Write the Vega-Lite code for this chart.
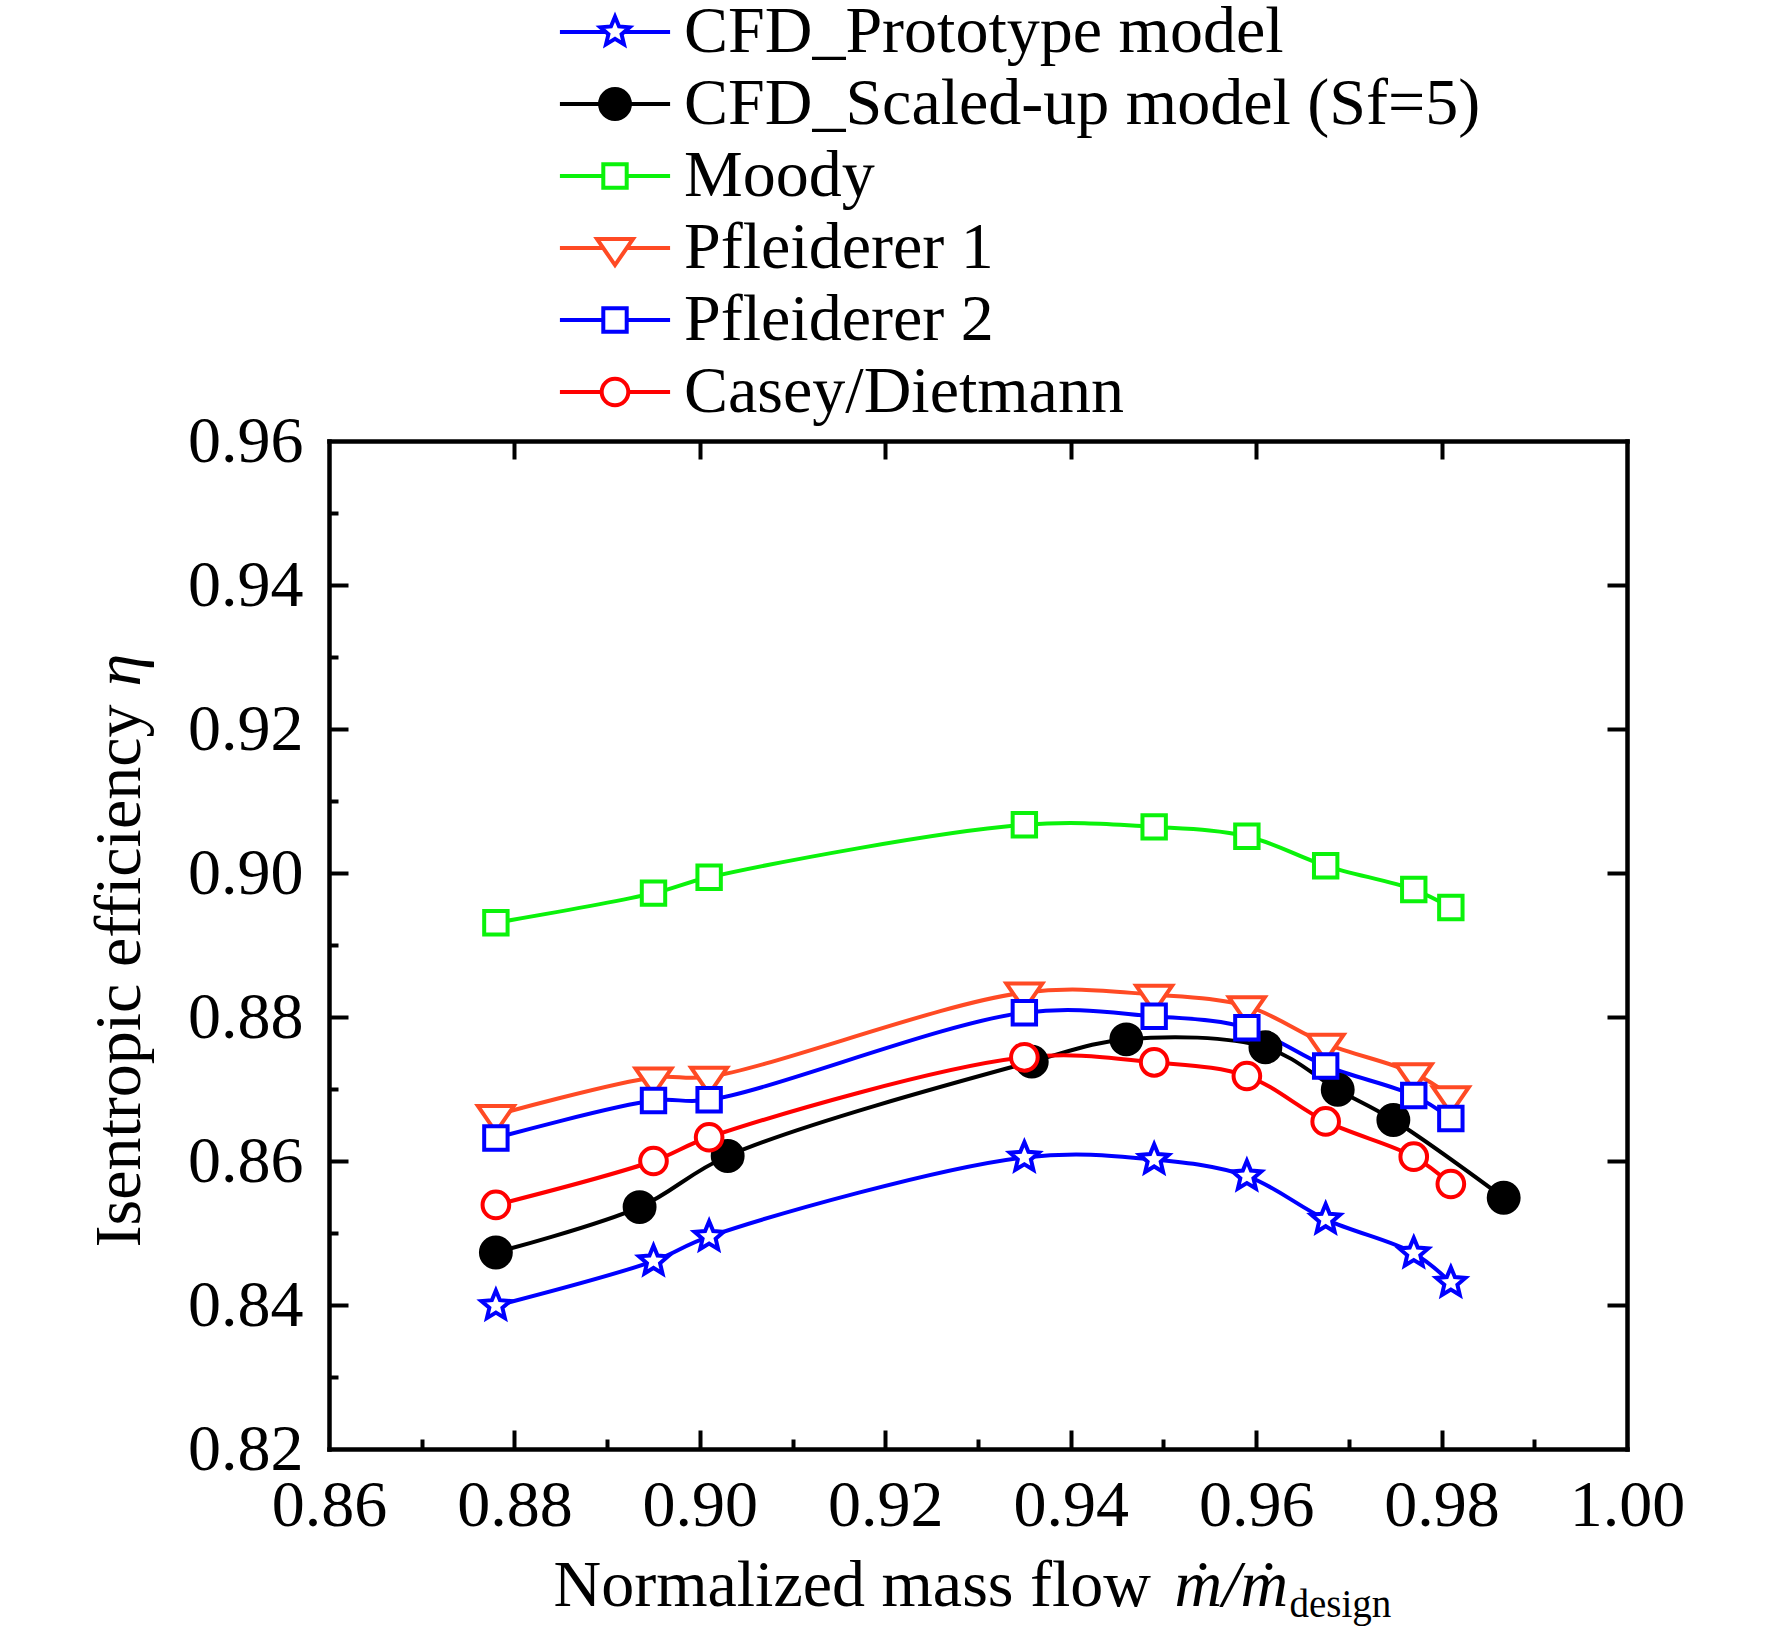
{
  "$schema": "https://vega.github.io/schema/vega-lite/v6.json",
  "width": 1298,
  "height": 1008,
  "autosize": {"type": "none"},
  "padding": {"left": 329, "top": 441, "right": 145, "bottom": 190},
  "background": "white",
  "data": {
    "values": [
      {"series": "CFD_Prototype model", "x": 0.878, "y": 0.8399},
      {"series": "CFD_Prototype model", "x": 0.895, "y": 0.8461},
      {"series": "CFD_Prototype model", "x": 0.901, "y": 0.8495},
      {"series": "CFD_Prototype model", "x": 0.935, "y": 0.8605},
      {"series": "CFD_Prototype model", "x": 0.949, "y": 0.8602},
      {"series": "CFD_Prototype model", "x": 0.959, "y": 0.8579},
      {"series": "CFD_Prototype model", "x": 0.9675, "y": 0.8519},
      {"series": "CFD_Prototype model", "x": 0.977, "y": 0.8472},
      {"series": "CFD_Prototype model", "x": 0.981, "y": 0.8431},
      {"series": "CFD_Scaled-up model (Sf=5)", "x": 0.878, "y": 0.8473},
      {"series": "CFD_Scaled-up model (Sf=5)", "x": 0.8935, "y": 0.8536},
      {"series": "CFD_Scaled-up model (Sf=5)", "x": 0.903, "y": 0.8607},
      {"series": "CFD_Scaled-up model (Sf=5)", "x": 0.9358, "y": 0.8738},
      {"series": "CFD_Scaled-up model (Sf=5)", "x": 0.946, "y": 0.8769},
      {"series": "CFD_Scaled-up model (Sf=5)", "x": 0.961, "y": 0.8758},
      {"series": "CFD_Scaled-up model (Sf=5)", "x": 0.9688, "y": 0.8699},
      {"series": "CFD_Scaled-up model (Sf=5)", "x": 0.9748, "y": 0.8657},
      {"series": "CFD_Scaled-up model (Sf=5)", "x": 0.9867, "y": 0.8549},
      {"series": "Moody", "x": 0.878, "y": 0.8931},
      {"series": "Moody", "x": 0.895, "y": 0.8972},
      {"series": "Moody", "x": 0.901, "y": 0.8994},
      {"series": "Moody", "x": 0.935, "y": 0.9067},
      {"series": "Moody", "x": 0.949, "y": 0.9064},
      {"series": "Moody", "x": 0.959, "y": 0.9051},
      {"series": "Moody", "x": 0.9675, "y": 0.901},
      {"series": "Moody", "x": 0.977, "y": 0.8977},
      {"series": "Moody", "x": 0.981, "y": 0.8952},
      {"series": "Pfleiderer 1", "x": 0.878, "y": 0.8664},
      {"series": "Pfleiderer 1", "x": 0.895, "y": 0.8716},
      {"series": "Pfleiderer 1", "x": 0.901, "y": 0.8717},
      {"series": "Pfleiderer 1", "x": 0.935, "y": 0.8834},
      {"series": "Pfleiderer 1", "x": 0.949, "y": 0.8831},
      {"series": "Pfleiderer 1", "x": 0.959, "y": 0.8815},
      {"series": "Pfleiderer 1", "x": 0.9675, "y": 0.8763},
      {"series": "Pfleiderer 1", "x": 0.977, "y": 0.8722},
      {"series": "Pfleiderer 1", "x": 0.981, "y": 0.869},
      {"series": "Pfleiderer 2", "x": 0.878, "y": 0.8632},
      {"series": "Pfleiderer 2", "x": 0.895, "y": 0.8684},
      {"series": "Pfleiderer 2", "x": 0.901, "y": 0.8685},
      {"series": "Pfleiderer 2", "x": 0.935, "y": 0.8806},
      {"series": "Pfleiderer 2", "x": 0.949, "y": 0.8801},
      {"series": "Pfleiderer 2", "x": 0.959, "y": 0.8785},
      {"series": "Pfleiderer 2", "x": 0.9675, "y": 0.8732},
      {"series": "Pfleiderer 2", "x": 0.977, "y": 0.8691},
      {"series": "Pfleiderer 2", "x": 0.981, "y": 0.8659},
      {"series": "Casey/Dietmann", "x": 0.878, "y": 0.8539},
      {"series": "Casey/Dietmann", "x": 0.895, "y": 0.86},
      {"series": "Casey/Dietmann", "x": 0.901, "y": 0.8633},
      {"series": "Casey/Dietmann", "x": 0.935, "y": 0.8744},
      {"series": "Casey/Dietmann", "x": 0.949, "y": 0.8737},
      {"series": "Casey/Dietmann", "x": 0.959, "y": 0.8718},
      {"series": "Casey/Dietmann", "x": 0.9675, "y": 0.8655},
      {"series": "Casey/Dietmann", "x": 0.977, "y": 0.8606},
      {"series": "Casey/Dietmann", "x": 0.981, "y": 0.8568}
    ]
  },
  "resolve": {"axis": {"x": "independent", "y": "independent"}},
  "layer": [
    {
      "mark": {"type": "line", "interpolate": "catmull-rom", "strokeWidth": 4},
      "encoding": {
        "x": {
          "field": "x", "type": "quantitative",
          "scale": {"domain": [0.86, 1.0], "nice": false, "zero": false},
          "axis": {
            "orient": "bottom",
            "values": [0.86, 0.88, 0.9, 0.92, 0.94, 0.96, 0.98, 1.0],
            "format": ".2f",
            "ticks": false, "tickSize": 0,
            "labelPadding": 76, "labelBaseline": "alphabetic",
            "labelFlush": false, "labelOverlap": false,
            "domainWidth": 4.5, "domainCap": "square",
            "grid": false,
            "title": "Normalized mass flow",
            "titleX": 224, "titleY": 156,
            "titleAlign": "left", "titleBaseline": "alphabetic"
          }
        },
        "y": {
          "field": "y", "type": "quantitative",
          "scale": {"domain": [0.82, 0.96], "nice": false, "zero": false},
          "axis": {
            "orient": "left",
            "values": [0.82, 0.84, 0.86, 0.88, 0.9, 0.92, 0.94, 0.96],
            "format": ".2f",
            "ticks": false, "tickSize": 0,
            "labelPadding": 26, "labelBaseline": "middle",
            "labelFlush": false, "labelOverlap": false,
            "domainWidth": 4.5, "domainCap": "square",
            "grid": false,
            "title": "Isentropic efficiency",
            "titleX": -190, "titleY": 806, "titleAngle": 270,
            "titleAlign": "left", "titleBaseline": "alphabetic"
          }
        },
        "stroke": {
          "field": "series", "type": "nominal",
          "scale": {
            "domain": ["CFD_Prototype model", "CFD_Scaled-up model (Sf=5)", "Moody", "Pfleiderer 1", "Pfleiderer 2", "Casey/Dietmann"],
            "range": ["#0000FF", "#000000", "#0BF20B", "#FF4A24", "#0000FF", "#FF0000"]
          },
          "legend": {
            "orient": "none",
            "legendX": 253,
            "legendY": -442,
            "direction": "vertical",
            "title": null,
            "padding": 0,
            "rowPadding": 6,
            "symbolSize": 1296,
            "symbolStrokeWidth": 4,
            "symbolOpacity": 1,
            "labelOffset": 36,
            "labelFontSize": 66,
            "labelLimit": 2000,
            "labelColor": "black",
            "encode": {
              "symbols": {
                "update": {
                  "fill": {"signal": "datum.value === 'CFD_Scaled-up model (Sf=5)' ? 'black' : 'white'"},
                  "shape": {"signal": "datum.value === 'CFD_Prototype model' ? 'M0,-0.85L0.2248,-0.3095L0.8084,-0.2627L0.3638,0.1182L0.4996,0.6877L0,0.3825L-0.4996,0.6877L-0.3638,0.1182L-0.8084,-0.2627L-0.2248,-0.3095ZM-3.06,0H-0.5M0.5,0H3.06' : datum.value === 'CFD_Scaled-up model (Sf=5)' ? 'M-0.83,0A0.83,0.83 0 1,0 0.83,0A0.83,0.83 0 1,0 -0.83,0ZM-3.06,0H-0.83M0.83,0H3.06' : datum.value === 'Pfleiderer 1' ? 'M-1,-0.5H1L0,0.95ZM-3.06,0H-0.655M0.655,0H3.06' : datum.value === 'Casey/Dietmann' ? 'M-0.74,0A0.74,0.74 0 1,0 0.74,0A0.74,0.74 0 1,0 -0.74,0ZM-3.06,0H-0.74M0.74,0H3.06' : 'M-0.65,-0.65H0.65V0.65H-0.65ZM-3.06,0H-0.65M0.65,0H3.06'"},
                  "size": {"value": 1296},
                  "strokeWidth": {"value": 4}
                }
              }
            }
          }
        }
      }
    },
    {
      "mark": {"type": "point", "filled": true, "size": 1296, "strokeWidth": 4, "opacity": 1},
      "encoding": {
        "x": {
          "field": "x", "type": "quantitative",
          "axis": {
            "orient": "top",
            "values": [0.88, 0.9, 0.92, 0.94, 0.96, 0.98],
            "labels": false, "tickSize": -18, "tickWidth": 4, "tickColor": "black",
            "domainWidth": 4.5, "domainCap": "square",
            "grid": false, "title": null
          }
        },
        "y": {
          "field": "y", "type": "quantitative",
          "axis": {
            "orient": "right",
            "values": [0.84, 0.86, 0.88, 0.9, 0.92, 0.94],
            "labels": false, "tickSize": -20, "tickWidth": 4, "tickColor": "black",
            "domainWidth": 4.5, "domainCap": "square",
            "grid": false, "title": null
          }
        },
        "stroke": {"field": "series", "type": "nominal"},
        "fill": {
          "field": "series", "type": "nominal",
          "scale": {
            "range": ["white", "black", "white", "white", "white", "white"]
          },
          "legend": null
        },
        "shape": {
          "field": "series", "type": "nominal",
          "scale": {
            "range": [
              "M0,-0.85L0.2248,-0.3095L0.8084,-0.2627L0.3638,0.1182L0.4996,0.6877L0,0.3825L-0.4996,0.6877L-0.3638,0.1182L-0.8084,-0.2627L-0.2248,-0.3095Z",
              "M-0.83,0A0.83,0.83 0 1,0 0.83,0A0.83,0.83 0 1,0 -0.83,0Z",
              "M-0.74,0A0.74,0.74 0 1,0 0.74,0A0.74,0.74 0 1,0 -0.74,0Z",
              "M-0.65,-0.65H0.65V0.65H-0.65Z",
              "M-1,-0.5H1L0,0.95Z",
              "M-0.65,-0.65H0.65V0.65H-0.65Z"
            ]
          },
          "legend": null
        }
      }
    },
    {
      "mark": {"type": "point", "opacity": 0},
      "encoding": {
        "x": {
          "field": "x", "type": "quantitative",
          "axis": {
            "orient": "bottom",
            "values": [0.88, 0.9, 0.92, 0.94, 0.96, 0.98],
            "labels": false, "domain": false, "tickSize": -19, "tickWidth": 4, "tickColor": "black",
            "grid": false,
            "title": "ṁ/ṁ",
            "titleFontStyle": "italic",
            "titleX": 845, "titleY": 156,
            "titleAlign": "left", "titleBaseline": "alphabetic"
          }
        },
        "y": {
          "field": "y", "type": "quantitative",
          "axis": {
            "orient": "left",
            "values": [0.84, 0.86, 0.88, 0.9, 0.92, 0.94],
            "labels": false, "domain": false, "tickSize": -19, "tickWidth": 4, "tickColor": "black",
            "grid": false,
            "title": "η",
            "titleFontStyle": "italic",
            "titleX": -190, "titleY": 245, "titleAngle": 270,
            "titleAlign": "left", "titleBaseline": "alphabetic"
          }
        }
      }
    },
    {
      "mark": {"type": "point", "opacity": 0},
      "encoding": {
        "x": {
          "field": "x", "type": "quantitative",
          "axis": {
            "orient": "bottom",
            "values": [0.87, 0.89, 0.91, 0.93, 0.95, 0.97, 0.99],
            "labels": false, "domain": false, "tickSize": -10, "tickWidth": 4, "tickColor": "black",
            "grid": false,
            "title": "design",
            "titleFontSize": 39,
            "titleX": 960, "titleY": 167,
            "titleAlign": "left", "titleBaseline": "alphabetic"
          }
        },
        "y": {
          "field": "y", "type": "quantitative",
          "axis": {
            "orient": "left",
            "values": [0.83, 0.85, 0.87, 0.89, 0.91, 0.93, 0.95],
            "labels": false, "domain": false, "tickSize": -9, "tickWidth": 4, "tickColor": "black",
            "grid": false, "title": null
          }
        }
      }
    }
  ],
  "config": {
    "font": "Liberation Serif",
    "view": {"stroke": null},
    "axis": {
      "labelFont": "Liberation Serif",
      "labelFontSize": 66,
      "labelColor": "black",
      "titleFont": "Liberation Serif",
      "titleFontSize": 66,
      "titleFontWeight": "normal",
      "titleColor": "black",
      "domainColor": "black",
      "tickColor": "black"
    },
    "legend": {
      "labelFont": "Liberation Serif"
    }
  }
}
